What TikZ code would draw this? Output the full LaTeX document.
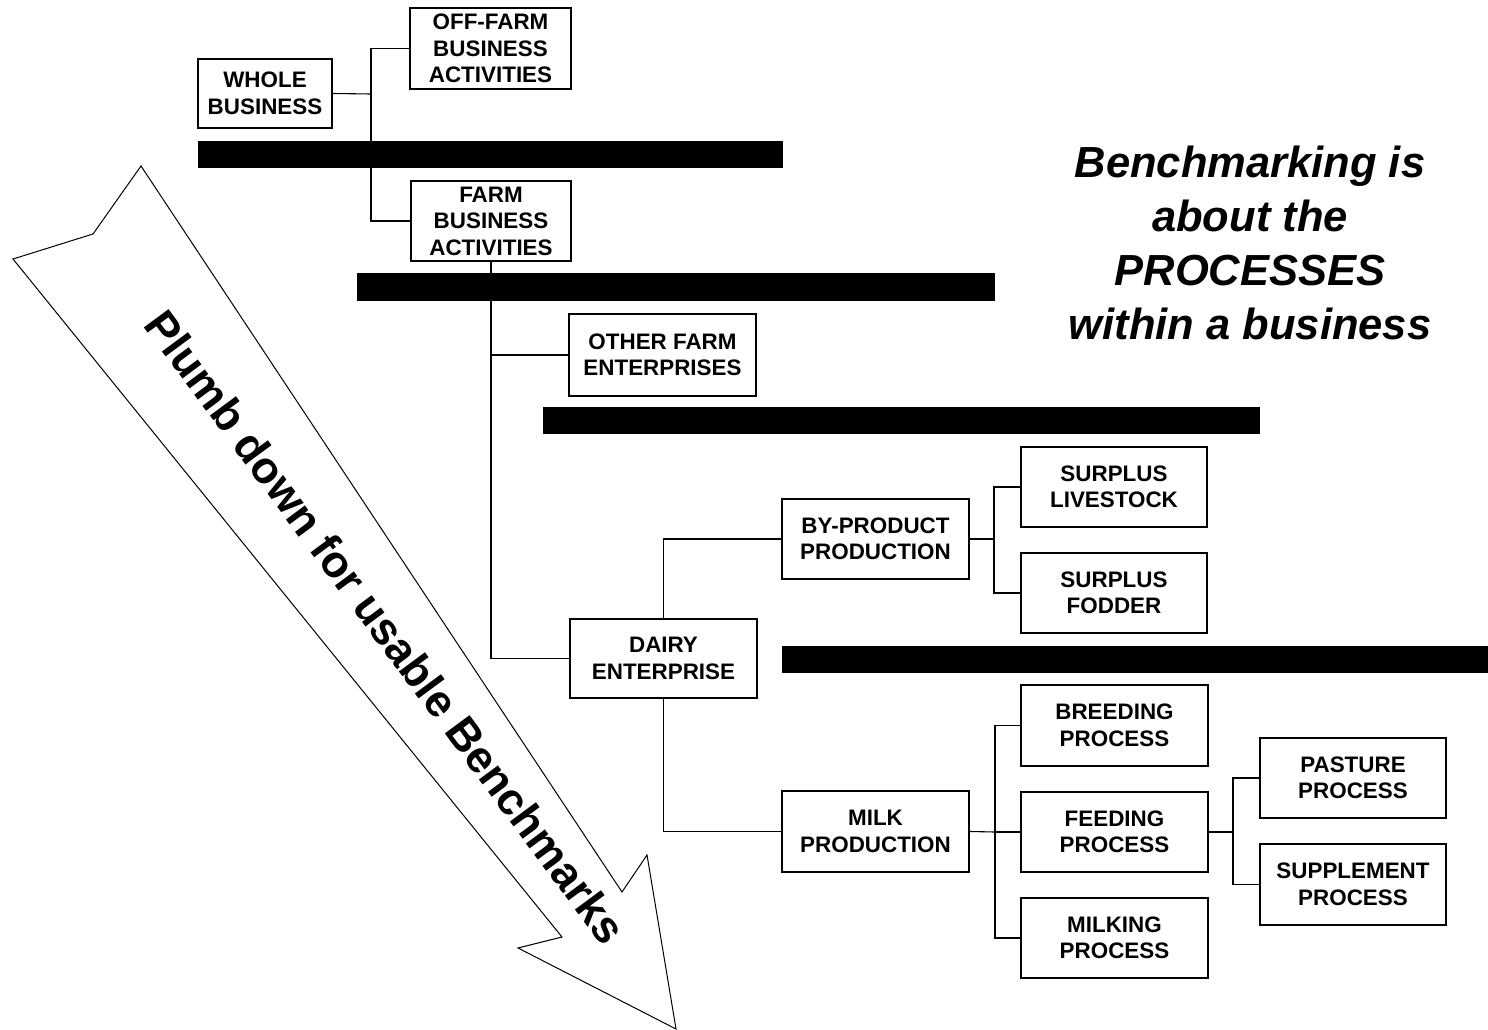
\documentclass[tikz,border=0pt]{standalone}
\usepackage{fontspec}
\setmainfont{Liberation Sans}
\newcommand\boxfont{\fontsize{22.4}{26.5}\selectfont\bfseries}
\begin{document}
\begin{tikzpicture}[x=1pt,y=-1pt,
  box/.style={draw, line width=2pt, fill=white, minimum width=187pt, minimum height=80pt,
              align=center, inner sep=0pt, font=\boxfont},
  link/.style={line width=1.1pt},
  bar/.style={fill=black},
  outline/.style={draw=black, line width=1pt, fill=white}]
\useasboundingbox (0,0) rectangle (1488,1030);

% big arrow
\path[outline] (141,166) -- (622,892) -- (647,855) -- (676,1029) -- (518,948)
  -- (562,937) -- (13,259) -- (93,234) -- cycle;
\node[rotate=-53.5, font=\fontsize{44.8}{50}\selectfont\bfseries] (plumb) at (386,627)
  {Plumb down for usable Benchmarks};

% boxes
\node[box, minimum width=134pt, minimum height=69pt] (whole) at (265,93.5) {WHOLE\\BUSINESS};
\node[box, minimum width=161pt, minimum height=81pt] (offfarm) at (490.5,48.5) {OFF-FARM\\BUSINESS\\ACTIVITIES};
\node[box, minimum width=160pt, minimum height=80pt] (farm) at (491,221) {FARM\\BUSINESS\\ACTIVITIES};
\node[box, minimum height=82pt] (other) at (662.5,355) {OTHER FARM\\ENTERPRISES};
\node[box, minimum height=79pt] (dairy) at (663.5,658.5) {DAIRY\\ENTERPRISE};
\node[box] (byprod) at (875.5,539) {BY-PRODUCT\\PRODUCTION};
\node[box, minimum width=186pt] (surlive) at (1114,487) {SURPLUS\\LIVESTOCK};
\node[box, minimum width=186pt] (surfod) at (1114,593) {SURPLUS\\FODDER};
\node[box, minimum height=81pt] (milk) at (875.5,831.5) {MILK\\PRODUCTION};
\node[box, minimum height=81pt] (breed) at (1114.5,725.5) {BREEDING\\PROCESS};
\node[box] (feed) at (1114.5,832) {FEEDING\\PROCESS};
\node[box] (milking) at (1114.5,938) {MILKING\\PROCESS};
\node[box, minimum width=186pt] (pasture) at (1353,778) {PASTURE\\PROCESS};
\node[box, minimum width=186pt, minimum height=81pt] (supp) at (1353,884.5) {SUPPLEMENT\\PROCESS};

% junctions
\coordinate (j1) at (371,94);
\coordinate (j2) at (994,539);
\coordinate (j3) at (995,832);
\coordinate (j4) at (1233,832);

% connectors
\draw[link] (whole.east) -- (j1);
\draw[link] (offfarm.west) -| (j1) |- (farm.west);
\draw[link] (farm.south) |- (dairy.west);
\draw[link] (farm.south |- other.west) -- (other.west);
\draw[link] (dairy.north) |- (byprod.west);
\draw[link] (dairy.south) |- (milk.west);
\draw[link] (byprod.east) -- (j2);
\draw[link] (surlive.west) -| (j2) |- (surfod.west);
\draw[link] (milk.east) -- (j3);
\draw[link] (breed.west) -| (j3) |- (milking.west);
\draw[link] (j3) -- (feed.west);
\draw[link] (feed.east) -- (j4);
\draw[link] (pasture.west) -| (j4) |- (supp.west);

% black bars
\path[bar] (198,141) rectangle (783,168);
\path[bar] (357,273) rectangle (995,301);
\path[bar] (543,407) rectangle (1260,434);
\path[bar] (782,646) rectangle (1488,673);

% caption
\node[align=center, inner sep=0pt, font=\fontsize{43.5}{54}\selectfont\bfseries\itshape] (bench)
  at (1250,243) {Benchmarking is\\about the\\PROCESSES\\within a business};
\end{tikzpicture}
\end{document}
